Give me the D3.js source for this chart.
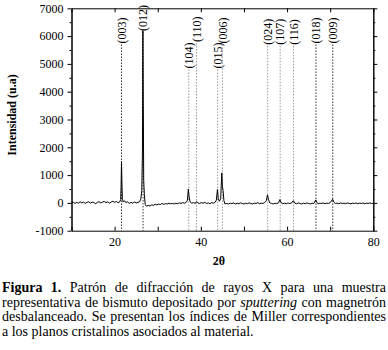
<!DOCTYPE html>
<html>
<head>
<meta charset="utf-8">
<style>
  body {
    margin: 0px;
    background: white;
    font-family: "Liberation Serif", serif;
  }
  svg {
    position: absolute;
    left: 0px;
    top: 0px;
  }
  .axis text {
    font-family: "Liberation Serif", serif;
    font-size: 12px;
    fill: black;
  }
  .axis path, .axis line {
    stroke: black;
  }
  #caption {
    position: absolute;
    left: 2px;
    top: 281px;
    width: 384px;
    font-size: 14px;
    line-height: 14.5px;
    color: black;
  }
  #caption div {
    text-align: justify;
    text-align-last: justify;
    white-space: nowrap;
  }
  #caption div.last {
    text-align-last: left;
  }
</style>
<script src="https://d3js.org/d3.v7.min.js"></script>
</head>
<body>
<svg></svg>
<div id="caption">
  <div><b>Figura 1.</b> Patrón de difracción de rayos X para una muestra</div>
  <div>representativa de bismuto depositado por <i>sputtering</i> con magnetrón</div>
  <div>desbalanceado. Se presentan los índices de Miller correspondientes</div>
  <div class="last">a los planos cristalinos asociados al material.</div>
</div>
<script>
// Miller indices and where their reference lines sit
const millerLabels = ["(003)", "(012)", "(104)", "(110)", "(015)", "(006)", "(024)", "(107)", "(116)", "(018)", "(009)"];
const millerPos    = [21.6, 26.6, 37.2, 39.0, 43.9, 45.0, 55.5, 58.4, 61.5, 66.7, 70.6];
const millerTop    = [5700, 6150, 4800, 5750, 4800, 5700, 5650, 5650, 5650, 5700, 5700];
const millerDark   = [true, true, false, false, false, false, false, false, false, true, true];

const xTicks = [10, 20, 30, 40, 50, 60, 70, 80];
const xLabels = [20, 40, 60, 80];
const yTicks = [-1000, 0, 1000, 2000, 3000, 4000, 5000, 6000, 7000];
const yMinor = [-500, 500, 1500, 2500, 3500, 4500, 5500, 6500];

// diffraction trace: [2theta, intensity]
const pattern = [
  [10.0, 0], [10.4, 30], [10.8, -20], [11.2, 20], [11.6, -10], [12.0, 40], [12.4, 0], [12.8, 30],
  [13.2, -20], [13.6, 20], [14.0, 40], [14.4, -10], [14.8, 30], [15.2, 10], [15.6, -30], [16.0, 20],
  [16.4, 40], [16.8, 0], [17.2, 30], [17.6, 50], [18.0, 10], [18.4, 40], [18.8, -10], [19.2, 30],
  [19.6, 60], [20.0, 20], [20.4, 50], [20.8, 10], [21.2, 40], [21.4, 120], [21.5, 600], [21.6, 1500],
  [21.7, 700], [21.8, 150], [22.0, 30], [22.3, 80], [22.6, 10], [23.0, 40], [23.4, -20], [23.8, 20],
  [24.2, -10], [24.6, 30], [25.0, 0], [25.4, 20], [25.8, 40], [26.1, 150], [26.3, 450], [26.45, 1800],
  [26.55, 6200], [26.65, 3500], [26.75, 800], [26.9, 300], [27.1, -60], [27.4, -120], [27.8, -90],
  [28.2, -110], [28.6, -70], [29.0, -90], [29.4, -50], [29.8, -70], [30.2, -40], [30.6, -60], [31.0, -20],
  [31.4, -50], [31.8, -30], [32.2, -40], [32.6, -10], [33.0, -30], [33.4, -20], [33.8, -40], [34.2, -10],
  [34.6, -30], [35.0, 0], [35.4, -20], [35.8, 10], [36.2, -10], [36.6, 20], [36.9, 100], [37.1, 500],
  [37.25, 250], [37.5, 40], [37.9, -10], [38.3, 10], [38.7, -20], [39.0, 50], [39.3, 0], [39.7, -20],
  [40.1, 10], [40.5, -10], [40.9, 20], [41.3, -20], [41.7, 0], [42.1, -30], [42.5, 10], [42.9, -10],
  [43.3, 20], [43.6, 100], [43.85, 480], [44.05, 150], [44.3, 60], [44.6, 150], [44.85, 1080], [45.0, 600],
  [45.15, 450], [45.35, 80], [45.6, -40], [46.0, -20], [46.4, -40], [46.8, -10], [47.2, -30], [47.6, 0],
  [48.0, -40], [48.4, -10], [48.8, -30], [49.2, 0], [49.6, -20], [50.0, -40], [50.4, -10], [50.8, -30],
  [51.2, 0], [51.6, -20], [52.0, -40], [52.4, -10], [52.8, -20], [53.2, 10], [53.6, -30], [54.0, -10],
  [54.4, -20], [54.8, 10], [55.2, 80], [55.45, 290], [55.7, 120], [56.0, 0], [56.4, -20], [56.8, -40],
  [57.2, -10], [57.6, -30], [58.0, 0], [58.35, 120], [58.6, 10], [59.0, -30], [59.4, -10], [59.8, -30],
  [60.2, 0], [60.6, -20], [61.0, -10], [61.45, 80], [61.8, -10], [62.2, -30], [62.6, 0], [63.0, -20],
  [63.4, -40], [63.8, -10], [64.2, -30], [64.6, 0], [65.0, -20], [65.4, -40], [65.8, -10], [66.2, -20],
  [66.65, 110], [66.9, 10], [67.2, -30], [67.6, -10], [68.0, -20], [68.4, 0], [68.8, -30], [69.2, -10],
  [69.6, -20], [70.0, 10], [70.55, 130], [70.9, 20], [71.2, -20], [71.6, -10], [72.0, -30], [72.4, 0],
  [72.8, -20], [73.2, -10], [73.6, -30], [74.0, 0], [74.4, -20], [74.8, -30], [75.2, -10], [75.6, -20],
  [76.0, 0], [76.4, -30], [76.8, -10], [77.2, -20], [77.6, 0], [78.0, -30], [78.4, -10], [78.8, -20],
  [79.2, 0], [79.6, -20], [80.0, -10]
];

const width = 388, height = 280;
const plotLeft = 71.5, plotRight = 373.3, plotTop = 8.3, plotBottom = 230.7;

const svg = d3.select("svg")
    .attr("width", width)
    .attr("height", height);

const x = d3.scaleLinear().domain([10, 80]).range([plotLeft, plotRight]);
const y = d3.scaleLinear().domain([-1000, 7000]).range([plotBottom, plotTop]);

// reference lines for the Miller indices
const refs = svg.append("g").selectAll("g")
    .data(millerLabels)
  .enter().append("g");

refs.append("line")
    .attr("x1", (d, i) => x(millerPos[i]))
    .attr("x2", (d, i) => x(millerPos[i]))
    .attr("y1", (d, i) => y(millerTop[i]))
    .attr("y2", y(-1000))
    .style("stroke", (d, i) => millerDark[i] ? "#333" : "#9a9a9a")
    .style("stroke-width", 1)
    .style("stroke-dasharray", "1.5,1.5");

refs.append("text")
    .attr("transform", (d, i) => "translate(" + x(millerPos[i]) + "," + (y(millerTop[i]) - 1) + ") rotate(-90)")
    .attr("dy", "0.35em")
    .style("font-family", "'Liberation Serif', serif")
    .style("font-size", "12px")
    .text(d => d);

// the trace
const trace = d3.line()
    .x(d => x(d[0]))
    .y(d => y(d[1]));

svg.append("path")
    .datum(pattern)
    .attr("d", trace)
    .style("fill", "none")
    .style("stroke", "black")
    .style("stroke-width", 1);

// axes
svg.append("g").attr("class", "axis")
    .attr("transform", "translate(0," + plotBottom + ")")
    .call(d3.axisBottom(x).tickValues(xTicks).tickSizeInner(-4).tickSizeOuter(0).tickPadding(7)
      .tickFormat(d => xLabels.includes(d) ? d : ""));

svg.append("g").attr("class", "axis")
    .attr("transform", "translate(0," + plotTop + ")")
    .call(d3.axisTop(x).tickValues(xTicks).tickSizeInner(-4).tickSizeOuter(0).tickFormat(""));

svg.append("g").attr("class", "axis")
    .attr("transform", "translate(" + plotLeft + ",0)")
    .call(d3.axisLeft(y).tickValues(yTicks).tickSizeInner(4).tickSizeOuter(0).tickPadding(4)
      .tickFormat(d => String(d)));

svg.append("g").attr("class", "axis")
    .attr("transform", "translate(" + plotLeft + ",0)")
    .call(d3.axisLeft(y).tickValues(yMinor).tickSizeInner(2).tickSizeOuter(0).tickFormat(""));

svg.append("g").attr("class", "axis")
    .attr("transform", "translate(" + plotRight + ",0)")
    .call(d3.axisRight(y).tickValues(yTicks).tickSizeInner(4).tickSizeOuter(0).tickFormat(""));

svg.append("g").attr("class", "axis")
    .attr("transform", "translate(" + plotRight + ",0)")
    .call(d3.axisRight(y).tickValues(yMinor).tickSizeInner(2).tickSizeOuter(0).tickFormat(""));

// axis titles
svg.append("text")
    .attr("x", 219)
    .attr("y", 265)
    .attr("text-anchor", "middle")
    .style("font-family", "'Liberation Serif', serif")
    .style("font-size", "12px")
    .style("font-weight", "bold")
    .text("2θ");

svg.append("text")
    .attr("transform", "translate(16,115) rotate(-90)")
    .attr("text-anchor", "middle")
    .style("font-family", "'Liberation Serif', serif")
    .style("font-size", "12px")
    .style("font-weight", "bold")
    .text("Intensidad (u.a)");
</script>
</body>
</html>
